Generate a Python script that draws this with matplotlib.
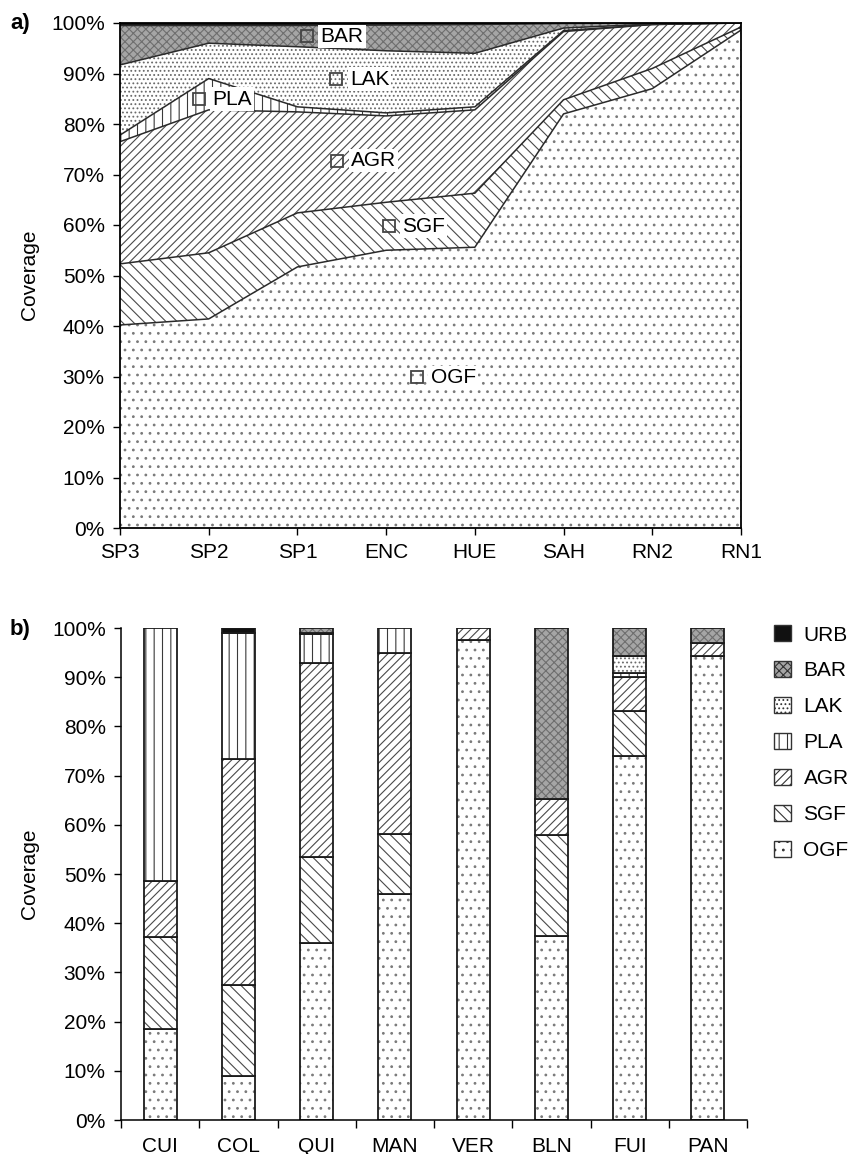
import numpy as np
import matplotlib
matplotlib.use('Agg')
import matplotlib.pyplot as plt
from matplotlib.patches import Patch

plt.rcParams['font.family'] = ['Liberation Sans', 'DejaVu Sans']
plt.rcParams['hatch.linewidth'] = 0.8

### Data - panel a (coverage %, along the gradient)
stations = ['SP3', 'SP2', 'SP1', 'ENC', 'HUE', 'SAH', 'RN2', 'RN1']
ogf_a = [40.2, 41.4, 51.7, 55.0, 55.6, 82.0, 87.0, 98.6]
sgf_a = [12.1, 13.1, 10.7, 9.5, 10.7, 2.8, 4.0, 0.6]
agr_a = [24.2, 28.3, 20.0, 17.1, 16.5, 13.5, 8.7, 0.8]
pla_a = [1.3, 6.2, 1.0, 0.6, 0.6, 0.2, 0.0, 0.0]
lak_a = [13.9, 7.0, 11.9, 12.3, 10.6, 0.5, 0.1, 0.0]
bar_a = [7.8, 3.5, 4.2, 5.1, 5.7, 0.9, 0.2, 0.0]
urb_a = [0.5, 0.5, 0.5, 0.4, 0.3, 0.1, 0.0, 0.0]

### Data - panel b (coverage %, per site)
sites = ['CUI', 'COL', 'QUI', 'MAN', 'VER', 'BLN', 'FUI', 'PAN']
ogf_b = [18.5, 9.0, 36.0, 46.0, 97.6, 37.5, 74.0, 94.4]
sgf_b = [18.7, 18.5, 17.4, 12.2, 0.0, 20.4, 9.2, 0.0]
agr_b = [11.4, 45.9, 39.5, 36.7, 2.4, 7.4, 6.9, 2.5]
pla_b = [51.4, 25.6, 5.8, 5.1, 0.0, 0.0, 0.7, 0.0]
lak_b = [0.0, 0.0, 0.3, 0.0, 0.0, 0.0, 3.6, 0.0]
bar_b = [0.0, 0.0, 1.0, 0.0, 0.0, 34.7, 5.6, 3.1]
urb_b = [0.0, 1.0, 0.0, 0.0, 0.0, 0.0, 0.0, 0.0]

classes = ['OGF', 'SGF', 'AGR', 'PLA', 'LAK', 'BAR', 'URB']
layers_a = [ogf_a, sgf_a, agr_a, pla_a, lak_a, bar_a, urb_a]
layers_b = [ogf_b, sgf_b, agr_b, pla_b, lak_b, bar_b, urb_b]

# in-plot labels of panel a: x position and relative height inside the layer
label_cls  = ['OGF', 'SGF', 'AGR', 'PLA', 'LAK', 'BAR']
label_x    = [3.35, 3.03, 2.45, 0.89, 2.44, 2.11]
label_frac = [0.54, 0.5, 0.5, 0.5, 0.5, 0.5]

### Styles (face, hatch, hatch colour)
style = {
    'OGF': ('white', '..', '#7a7a7a'),
    'SGF': ('white', '\\\\\\', '#4a4a4a'),
    'AGR': ('white', '////', '#4a4a4a'),
    'PLA': ('white', '||', '#3a3a3a'),
    'LAK': ('white', '....', '#6a6a6a'),
    'BAR': ('#a5a5a5', 'xxxx', '#6e6e6e'),
    'URB': ('#111111', '', '#111111'),
}
FS = 15

fig = plt.figure(figsize=(8.52, 11.54), dpi=100)

### Panel a - stacked area
ax1 = fig.add_axes([120/852, 1 - 528/1154, 621/852, 505/1154])
x = np.arange(len(stations))
cum = np.vstack([np.zeros(len(x)), np.cumsum(layers_a, axis=0)])
for i, c in enumerate(classes):
    face, hatch, hc = style[c]
    ax1.fill_between(x, cum[i], cum[i + 1], facecolor=face, edgecolor=hc,
                     hatch=hatch, linewidth=0)
for i in range(1, len(classes)):
    ax1.plot(x, cum[i], color='#2a2a2a', lw=1.1)

for c, lx, fr in zip(label_cls, label_x, label_frac):
    k = classes.index(c)
    lo = np.interp(lx, x, cum[k])
    hi = np.interp(lx, x, cum[k + 1])
    ly = lo + fr*(hi - lo)
    ax1.plot(lx, ly, 's', ms=8, mfc='none', mec='#444444', mew=1.3)
    ax1.text(lx + 0.15, ly, c, fontsize=FS, va='center', ha='left',
             bbox=dict(facecolor='white', edgecolor='none', pad=1.5))

ax1.set_xlim(0, len(x) - 1)
ax1.set_ylim(0, 100)
ax1.set_xticks(x)
ax1.set_xticklabels(stations)
ax1.set_yticks(np.arange(0, 101, 10))
ax1.set_yticklabels([f'{v}%' for v in range(0, 101, 10)])
ax1.tick_params(direction='out', length=5, width=1, labelsize=FS, pad=6)
for s in ax1.spines.values():
    s.set_linewidth(1.3)

### Panel b - stacked bars
ax2 = fig.add_axes([121/852, 1 - 1120/1154, 626/852, 492/1154])
xb = np.arange(len(sites))
bottom = np.zeros(len(sites))
for c, vals in zip(classes, layers_b):
    face, hatch, hc = style[c]
    vals = np.array(vals)
    m = vals > 0
    ax2.bar(xb[m], vals[m], bottom=bottom[m], width=0.42, color=face,
            edgecolor=hc, hatch=hatch, linewidth=0)
    ax2.bar(xb[m], vals[m], bottom=bottom[m], width=0.42, fill=False,
            edgecolor='#1a1a1a', linewidth=1.3)
    bottom += vals

ax2.set_xlim(-0.5, len(sites) - 0.5)
ax2.set_ylim(0, 100)
ax2.set_xticks(xb)
ax2.set_xticklabels(sites)
ax2.set_xticks(np.arange(-0.5, len(sites)), minor=True)
ax2.tick_params(axis='x', which='major', length=0, pad=12, labelsize=FS)
ax2.tick_params(axis='x', which='minor', direction='out', length=6, width=1)
ax2.set_yticks(np.arange(0, 101, 10))
ax2.set_yticklabels([f'{v}%' for v in range(0, 101, 10)])
ax2.tick_params(axis='y', direction='out', length=5, width=1, labelsize=FS, pad=6)
ax2.spines['top'].set_visible(False)
ax2.spines['right'].set_visible(False)
for s in ['left', 'bottom']:
    ax2.spines[s].set_linewidth(1.1)

# legend (top class first)
handles = []
for c in classes[::-1]:
    face, hatch, hc = style[c]
    handles.append(Patch(facecolor=face, edgecolor='#333333', hatch=hatch, lw=1))
fig.legend(handles, classes[::-1], loc='upper left',
           bbox_to_anchor=(766/852, 1 - 617/1154), frameon=False,
           fontsize=FS, handlelength=0.8, handleheight=0.8,
           labelspacing=0.8, handletextpad=0.6, borderaxespad=0)

### Panel letters and axis titles
fig.text(10/852, 1 - 24/1154, 'a)', fontsize=FS + 1, fontweight='bold', va='center')
fig.text(10/852, 1 - 630/1154, 'b)', fontsize=FS + 1, fontweight='bold', va='center')
fig.text(29/852, 1 - 275/1154, 'Coverage', fontsize=FS, rotation=90,
         va='center', ha='center')
fig.text(29/852, 1 - 874/1154, 'Coverage', fontsize=FS, rotation=90,
         va='center', ha='center')

fig.savefig('out.png', dpi=100)
